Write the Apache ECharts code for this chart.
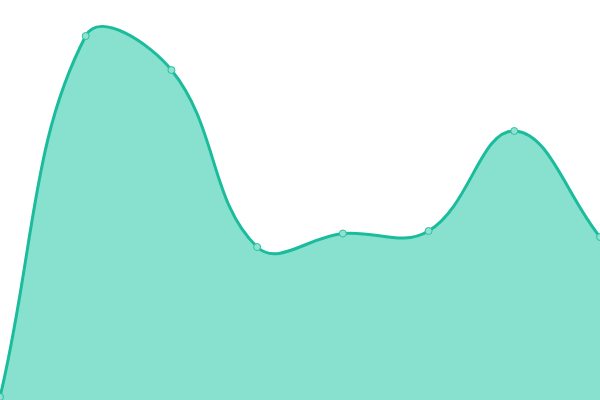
<!DOCTYPE html>
<html><head><meta charset="utf-8">
<script src="https://cdn.jsdelivr.net/npm/echarts@6/dist/echarts.min.js"></script>
<style>html,body{margin:0;padding:0;background:#fff}#c{width:600px;height:400px}</style>
</head><body><div id="c"></div>
<script>
const categories = ['1','2','3','4','5','6','7','8'];
const values = [3, 364, 330, 153, 166.5, 169, 269, 163];
const TENSION = 0.4;
const chart = echarts.init(document.getElementById('c'), null, {renderer:'canvas'});

function buildPaths(api, pts, area) {
  const cps = pts.map((cur, i) => {
    const prev = i > 0 ? pts[i-1] : cur;
    const next = i < pts.length-1 ? pts[i+1] : cur;
    const d01 = Math.hypot(cur[0]-prev[0], cur[1]-prev[1]);
    const d12 = Math.hypot(next[0]-cur[0], next[1]-cur[1]);
    let s01 = d01/(d01+d12), s12 = d12/(d01+d12);
    if (isNaN(s01)) s01 = 0; if (isNaN(s12)) s12 = 0;
    const fa = TENSION*s01, fb = TENSION*s12;
    const clampX = v => Math.max(area.x, Math.min(area.x+area.width, v));
    const clampY = v => Math.max(area.y, Math.min(area.y+area.height, v));
    return {
      p: [clampX(cur[0]-fa*(next[0]-prev[0])), clampY(cur[1]-fa*(next[1]-prev[1]))],
      n: [clampX(cur[0]+fb*(next[0]-prev[0])), clampY(cur[1]+fb*(next[1]-prev[1]))]
    };
  });
  let d = 'M' + pts[0][0] + ' ' + pts[0][1];
  for (let i = 1; i < pts.length; i++) {
    const a = cps[i-1].n, b = cps[i].p;
    d += ' C' + a[0] + ' ' + a[1] + ' ' + b[0] + ' ' + b[1] + ' ' + pts[i][0] + ' ' + pts[i][1];
  }
  return d;
}

chart.setOption({
  animation:false,
  grid:{left:0,right:0,top:0,bottom:0},
  xAxis:{type:'category',data:categories,boundaryGap:false,show:false},
  yAxis:{type:'value',min:0,max:400,show:false},
  series:[{
    type:'custom',
    data: values.map((v,i)=>[i,v]),
    encode:{x:0,y:1},
    clip:true,
    z:1,
    renderItem: function(params, api) {
      if (params.dataIndex !== 0) return null;
      const pts = values.map((v,i)=>api.coord([i, v]));
      const area = params.coordSys;
      const line = buildPaths(api, pts, area);
      const bottom = area.y + area.height;
      const fill = line + ' L' + pts[pts.length-1][0] + ' ' + bottom + ' L' + pts[0][0] + ' ' + bottom + ' Z';
      return {type:'group', children:[
        {type:'path', shape:{pathData:fill}, style:{fill:'#88e0cf', stroke:null}},
        {type:'path', shape:{pathData:line}, style:{fill:null, stroke:'#1abc9c', lineWidth:3}}
      ]};
    }
  },{
    type:'scatter',
    data: values,
    z:3,
    symbol:'circle', symbolSize:7,
    itemStyle:{color:'#8de2d0',borderColor:'#2dbf9f',borderWidth:1, opacity:1}
  }]
});
</script></body></html>
